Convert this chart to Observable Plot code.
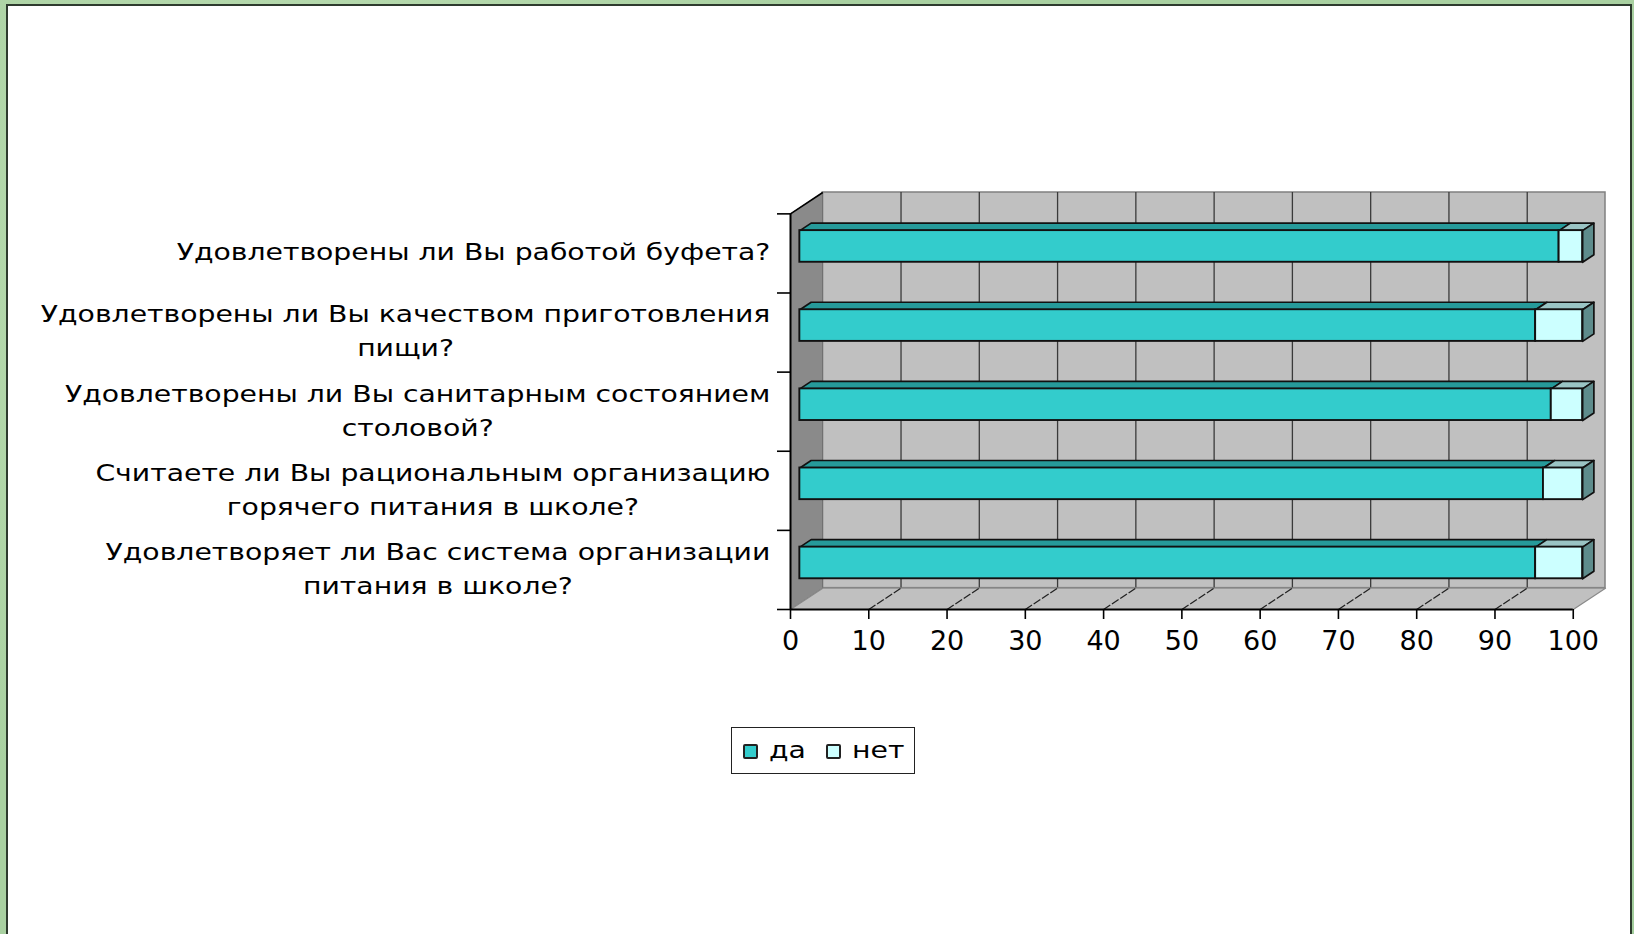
<!DOCTYPE html>
<html><head><meta charset="utf-8">
<script src="https://cdn.jsdelivr.net/npm/d3@7"></script>
<script src="https://cdn.jsdelivr.net/npm/@observablehq/plot@0.6"></script>
<style>
html,body{margin:0;padding:0;width:1634px;height:934px;overflow:hidden;}
body{position:relative;font-family:"DejaVu Sans";
  background:#a9d1a1;
  background-image:radial-gradient(circle at 20% 30%, #bfe0b6 0, transparent 40%),radial-gradient(circle at 80% 70%, #98c793 0, transparent 45%);}
#panel{position:absolute;left:6px;top:4px;width:1622px;height:1000px;background:#fff;border:2px solid #2e3b2e;}
#chart{position:absolute;left:0;top:0;}
#legend{position:absolute;left:731px;top:727px;width:184px;height:47px;box-sizing:border-box;border:1.5px solid #222;background:#fff;}
#legend .sw{position:absolute;top:16px;width:15px;height:15px;box-sizing:border-box;border:2px solid #222;border-radius:2px;}
#legend .lt{position:absolute;top:8px;font-size:23px;line-height:28px;transform:scaleX(1.23);transform-origin:0 50%;color:#000;white-space:nowrap;}
</style></head><body>
<div id="panel"></div>
<div id="chart"></div>
<div id="legend"></div>
<script>
// ---- data ----
const categories = [
  "Удовлетворены ли Вы работой буфета?",
  "Удовлетворены ли Вы качеством приготовления\nпищи?",
  "Удовлетворены ли Вы санитарным состоянием\nстоловой?",
  "Считаете ли Вы рациональным организацию\nгорячего питания в школе?",
  "Удовлетворяет ли Вас система организации\nпитания в школе?"
];
const seriesNames = ["да", "нет"];
const yes = [97, 94, 96, 95, 94];
const no = [3, 6, 4, 5, 6];
const xTicks = [0, 10, 20, 30, 40, 50, 60, 70, 80, 90, 100];

// ---- style / layout ----
const W = 1634, H = 700;
const ML = 790, MR = 29, MT = 192, MB = 91;
const DX = 4.12, DY = -0.27;      // depth of the 3D box (data units)
const F1 = 0.29, F2 = 0.64;       // bar front/back depth fraction
const BT = 0.29, BB = 0.69;       // bar top/bottom inside band
const SX = 1.23;                  // horizontal text stretch
const LABEL_FONT = 23, GAP = 20;
const colors = {
  front: ["#33cccc", "#ccffff"],
  top: ["#269a9a", "#9ac4c4"],
  right: "#5e8c8c"
};

const N = categories.length;
const XMAX = d3.max(yes.map((v, i) => v + no[i]));
const KX = (W - ML - MR) / (XMAX + DX);

// stacked segments
const segs = [];
categories.forEach((c, i) => {
  let x0 = 0;
  [yes[i], no[i]].forEach((v, s) => { segs.push({i, s, x0, x1: x0 + v}); x0 += v; });
});

function poly(id, pts) { return pts.concat([pts[0]]).map(([x, y]) => ({id, x, y})); }
const topFaces = [[], []];
const rightFaces = [];
segs.forEach((d, k) => {
  const yt = d.i + BT, yb = d.i + BB;
  topFaces[d.s].push(...poly("t" + k, [
    [d.x0 + F1 * DX, yt + F1 * DY], [d.x1 + F1 * DX, yt + F1 * DY],
    [d.x1 + F2 * DX, yt + F2 * DY], [d.x0 + F2 * DX, yt + F2 * DY]]));
  if (d.s === 1) rightFaces.push(...poly("r" + k, [
    [d.x1 + F1 * DX, yt + F1 * DY], [d.x1 + F2 * DX, yt + F2 * DY],
    [d.x1 + F2 * DX, yb + F2 * DY], [d.x1 + F1 * DX, yb + F1 * DY]]));
});

const leftWall = poly("lw", [[0, 0], [DX, DY], [DX, N + DY], [0, N]]);
const floor = poly("fl", [[0, N], [XMAX, N], [XMAX + DX, N + DY], [DX, N + DY]]);

const ctx = document.createElement("canvas").getContext("2d");
ctx.font = `${LABEL_FONT}px "DejaVu Sans"`;
const labelX = c => -(GAP + SX * d3.max(c.split("\n"), l => ctx.measureText(l).width) / 2) / KX;

const faceOpts = {x: "x", y: "y", z: "id", stroke: "#111", strokeWidth: 1.7, strokeLinejoin: "round"};

const chart = Plot.plot({
  width: W, height: H,
  marginLeft: ML, marginRight: MR, marginTop: MT, marginBottom: MB,
  style: {background: "transparent", overflow: "visible", color: "black"},
  x: {domain: [0, XMAX + DX]},
  y: {domain: [DY, N], reverse: true},
  marks: [
    // back wall
    Plot.rect([0], {x1: DX, x2: XMAX + DX, y1: DY, y2: N + DY, fill: "#c0c0c0", stroke: "#808080", strokeWidth: 1.5}),
    Plot.ruleX(xTicks.slice(1, -1), {x: d => d + DX, y1: DY, y2: N + DY, stroke: "#3a3a3a", strokeWidth: 1.3}),
    // left wall
    Plot.line(leftWall, {x: "x", y: "y", z: "id", fill: "#8a8a8a", stroke: "#6a6a6a", strokeWidth: 1}),
    // floor
    Plot.line(floor, {x: "x", y: "y", z: "id", fill: "#c0c0c0", stroke: "#8a8a8a", strokeWidth: 1.2}),
    Plot.link(xTicks.slice(1, -1), {x1: d => d, y1: N, x2: d => d + DX, y2: N + DY, stroke: "#222", strokeWidth: 1.3, strokeDasharray: "8,2"}),
    Plot.ruleY([N], {x1: 0, x2: XMAX, stroke: "#000", strokeWidth: 2}),
    Plot.ruleX([0], {y1: 0, y2: N, stroke: "#000", strokeWidth: 2}),
    Plot.link([0], {x1: 0, y1: 0, x2: DX, y2: DY, stroke: "#000", strokeWidth: 1.5}),
    // bars
    Plot.line(topFaces[0], {...faceOpts, fill: colors.top[0]}),
    Plot.line(topFaces[1], {...faceOpts, fill: colors.top[1]}),
    Plot.line(rightFaces, {...faceOpts, fill: colors.right}),
    Plot.rect(segs, {
      x1: d => d.x0 + F1 * DX, x2: d => d.x1 + F1 * DX,
      y1: d => d.i + BT + F1 * DY, y2: d => d.i + BB + F1 * DY,
      fill: d => colors.front[d.s], stroke: "#111", strokeWidth: 1.9
    }),
    // axes
    Plot.axisX({ticks: xTicks, tickSize: 10, tickPadding: 11, fontSize: 27, fontFamily: "DejaVu Sans", label: null, strokeWidth: 1.6}),
    Plot.axisY({ticks: d3.range(0, N + 1), tickSize: 13, tickFormat: () => "", label: null, strokeWidth: 1.6}),
    Plot.text(categories, {
      x: labelX, y: (d, i) => i + 0.5, text: d => d, dy: -4,
      textAnchor: "middle", lineAnchor: "middle", lineHeight: 1.48,
      fontSize: LABEL_FONT, fontFamily: "DejaVu Sans", fill: "#000"
    })
  ]
});
document.getElementById("chart").appendChild(chart);

// stretch category labels horizontally (wide face in the original)
d3.select(chart).selectAll('g[aria-label="text"] text').each(function() {
  const t = this.getAttribute("transform") || "";
  this.setAttribute("transform", `${t} scale(${SX},1)`);
});

// legend
const lg = document.getElementById("legend");
const swLeft = [11, 94], txLeft = [37, 120];
seriesNames.forEach((name, s) => {
  const sw = document.createElement("span");
  sw.className = "sw"; sw.style.left = swLeft[s] + "px"; sw.style.background = colors.front[s];
  const tx = document.createElement("span");
  tx.className = "lt"; tx.style.left = txLeft[s] + "px"; tx.textContent = name;
  lg.appendChild(sw); lg.appendChild(tx);
});
</script>
</body></html>
